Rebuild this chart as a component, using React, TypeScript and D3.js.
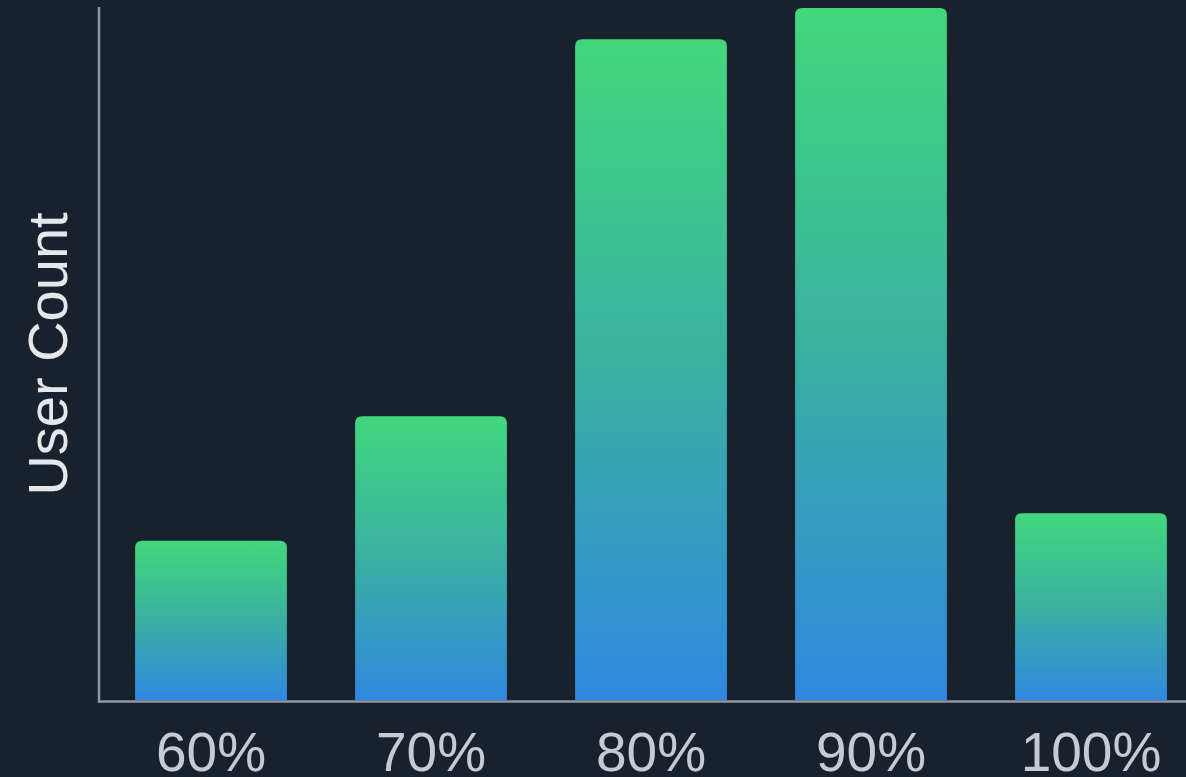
import * as d3 from "d3";
import { useRef, useEffect } from "react";

const categories: string[] = ["60%", "70%", "80%", "90%", "100%"];
const userCounts: number[] = [46, 82, 191, 200, 54];
const yMax: number = 200;

export default function App() {
  const svgRef: any = useRef();

  useEffect(() => {
    const w: number = 1186;
    const h: number = 777;
    const baseY: number = 700;
    const topY: number = 8;
    const axisX: number = 99;

    document.body.style.margin = "0";

    const svg = d3
      .select(svgRef.current)
      .attr("width", w)
      .attr("height", h)
      .style("background", "#19212d")
      .style("display", "block");
    svg.selectAll("*").remove();

    // gradient green -> blue, per bar
    const defs = svg.append("defs");
    const grad = defs
      .append("linearGradient")
      .attr("id", "barGrad")
      .attr("x1", 0)
      .attr("y1", 0)
      .attr("x2", 0)
      .attr("y2", 1);
    grad.append("stop").attr("offset", "0%").attr("stop-color", "#42d77c");
    grad.append("stop").attr("offset", "50%").attr("stop-color", "#3ab0a2");
    grad.append("stop").attr("offset", "100%").attr("stop-color", "#2f88e0");

    // scales
    const xScale = d3
      .scaleBand()
      .domain(categories)
      .range([101, 1201])
      .paddingInner(0.31)
      .paddingOuter(0.155);
    const yScale = d3.scaleLinear().domain([0, yMax]).range([baseY, topY]);

    // bars, rounded top corners only
    const r = 7;
    svg
      .selectAll(".bar")
      .data(userCounts)
      .join("path")
      .attr("class", "bar")
      .attr("d", (d: number, i: number) => {
        const x0 = xScale(categories[i]) as number;
        const x1 = x0 + xScale.bandwidth();
        const y0 = yScale(d);
        return `M${x0},${baseY}V${y0 + r}Q${x0},${y0} ${x0 + r},${y0}H${x1 - r}Q${x1},${y0} ${x1},${y0 + r}V${baseY}Z`;
      })
      .attr("fill", "url(#barGrad)");

    // axes
    const xAxis = d3.axisBottom(xScale).tickSize(0).tickPadding(30);
    const gx = svg
      .append("g")
      .attr("transform", `translate(0, ${baseY + 1.5})`)
      .call(xAxis);
    gx.select(".domain").remove();
    gx.selectAll("text")
      .attr("fill", "#c6cbd3")
      .style("font-family", "'Liberation Sans', Arial, sans-serif")
      .style("font-size", "55px")
      .attr("dy", "0.71em");

    svg
      .append("line")
      .attr("x1", axisX)
      .attr("x2", w)
      .attr("y1", baseY + 1.5)
      .attr("y2", baseY + 1.5)
      .attr("stroke", "#8e99a8")
      .attr("stroke-width", 2.5);
    svg
      .append("line")
      .attr("x1", axisX)
      .attr("x2", axisX)
      .attr("y1", 7)
      .attr("y2", baseY + 2.75)
      .attr("stroke", "#8e99a8")
      .attr("stroke-width", 2.5);

    // y label
    svg
      .append("text")
      .attr("transform", `translate(67, ${(topY + baseY) / 2}) rotate(-90)`)
      .attr("text-anchor", "middle")
      .attr("fill", "#e4e7ec")
      .style("font-family", "'Liberation Sans', Arial, sans-serif")
      .style("font-size", "56px")
      .text("User Count");
  }, []);

  return (
    <div className="chart">
      <svg ref={svgRef}></svg>
    </div>
  );
}
